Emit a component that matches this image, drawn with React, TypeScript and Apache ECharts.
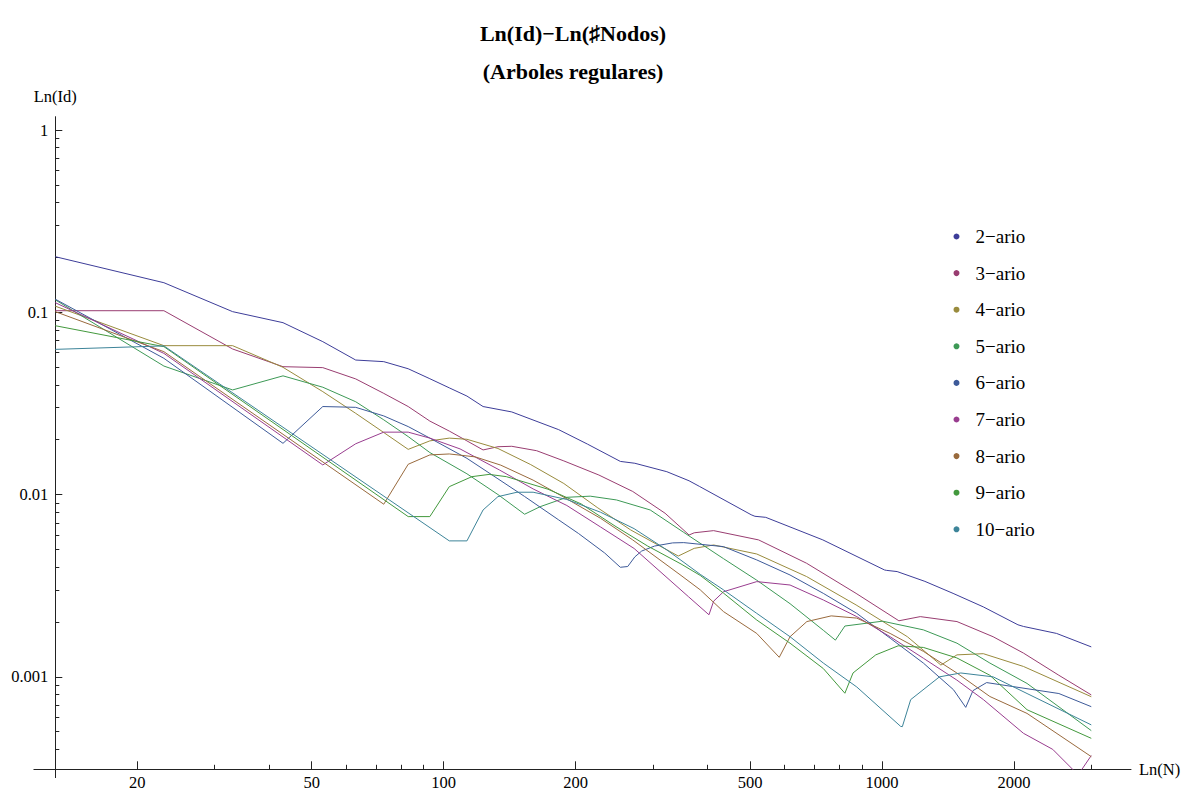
import { useEffect, useRef } from "react";
import * as echarts from "echarts";

const FONT = "'Liberation Serif', 'Times New Roman', Times, serif";
const AXIS_COLOR = "#222";

// ---- series (number of nodes N, value of Id) ----
const nodes2 = [13, 23, 33, 43, 53, 63, 73, 83, 93, 103, 113, 123, 143, 183, 213, 253, 273, 323, 363, 383, 503, 513, 543, 733, 1013, 1023, 1083, 1253, 1453, 1703, 2043, 2103, 2503, 3003];
const id2 = [0.2018, 0.1453, 0.1008, 0.0877, 0.069, 0.0547, 0.0536, 0.049, 0.0432, 0.0385, 0.0347, 0.0304, 0.0284, 0.0227, 0.0189, 0.0152, 0.01485, 0.01335, 0.0119, 0.0111, 0.00775, 0.0076, 0.0075, 0.00564, 0.00386, 0.00384, 0.00378, 0.00334, 0.00287, 0.00242, 0.00193, 0.00189, 0.00173, 0.00146];

const nodes3 = [13, 23, 33, 43, 53, 63, 73, 83, 93, 103, 113, 123, 133, 143, 163, 188, 226, 270, 320, 363, 373, 413, 523, 673, 873, 1093, 1223, 1483, 1793, 2103, 2533, 3003];
const id3 = [0.102, 0.102, 0.0629, 0.0503, 0.0497, 0.0431, 0.0359, 0.0304, 0.0253, 0.0223, 0.0197, 0.01757, 0.0183, 0.0184, 0.0174, 0.0153, 0.0128, 0.0104, 0.0079, 0.006, 0.00617, 0.00634, 0.00564, 0.0042, 0.00287, 0.00203, 0.00214, 0.00201, 0.00166, 0.00135, 0.00102, 0.000796];

const nodes4 = [13, 23, 33, 43, 53, 63, 73, 83, 93, 103, 113, 133, 158, 188, 224, 267, 317, 343, 373, 413, 518, 673, 873, 1143, 1363, 1483, 1703, 2103, 3003];
const id4 = [0.108, 0.0656, 0.0656, 0.0499, 0.0367, 0.0279, 0.0219, 0.0177, 0.0197, 0.0204, 0.0201, 0.0179, 0.0146, 0.0115, 0.0085, 0.0064, 0.0051, 0.0046, 0.00507, 0.00529, 0.00472, 0.00355, 0.00248, 0.00166, 0.00116, 0.00132, 0.00134, 0.00114, 0.000778];

const nodes5 = [13, 23, 33, 43, 53, 63, 73, 83, 93, 113, 133, 153, 166, 191, 216, 248, 296, 353, 435, 518, 617, 735, 783, 823, 1003, 1243, 1483, 1763, 2143, 3003];
const id5 = [0.117, 0.0507, 0.0375, 0.0448, 0.0388, 0.0323, 0.0257, 0.0208, 0.017, 0.013, 0.01, 0.0078, 0.00858, 0.00966, 0.0098, 0.00934, 0.00823, 0.0062, 0.00445, 0.00339, 0.00252, 0.0018, 0.00159, 0.0019, 0.00202, 0.00181, 0.00153, 0.00119, 0.00092, 0.000507];

const nodes6 = [13, 23, 43, 53, 63, 73, 83, 93, 113, 133, 153, 183, 203, 233, 253, 263, 273, 283, 303, 333, 353, 435, 518, 617, 735, 876, 1044, 1243, 1456, 1553, 1613, 1733, 2533, 3003];
const id6 = [0.118, 0.0559, 0.0191, 0.0304, 0.0301, 0.027, 0.0236, 0.0204, 0.0158, 0.0122, 0.00976, 0.00726, 0.00612, 0.00478, 0.00399, 0.00403, 0.00455, 0.0049, 0.00522, 0.00543, 0.00545, 0.00518, 0.00438, 0.00362, 0.00287, 0.00223, 0.00163, 0.00119, 0.00085, 0.00068, 0.00084, 0.00093, 0.00081, 0.000686];

const nodes7 = [13, 23, 53, 63, 73, 83, 93, 109, 134, 160, 191, 228, 272, 362, 403, 413, 435, 518, 617, 735, 876, 1044, 1243, 1482, 1704, 2103, 2453, 2803, 3003];
const id7 = [0.1129, 0.0595, 0.01454, 0.019, 0.022, 0.022, 0.0204, 0.0178, 0.01365, 0.01074, 0.00871, 0.00664, 0.00506, 0.00275, 0.00219, 0.0026, 0.00293, 0.00333, 0.00319, 0.00264, 0.00214, 0.00166, 0.001265, 0.00096, 0.00075, 0.00049, 0.0004, 0.00029, 0.00037];

const nodes8 = [13, 23, 73, 83, 93, 103, 118, 135, 160, 190, 228, 270, 348, 385, 435, 518, 583, 617, 674, 766, 876, 1044, 1243, 1482, 1763, 2143, 3003];
const id8 = [0.1008, 0.0608, 0.00885, 0.01466, 0.0165, 0.0167, 0.0161, 0.0145, 0.012, 0.00954, 0.00741, 0.00564, 0.0036, 0.003, 0.00228, 0.00173, 0.00128, 0.00166, 0.00201, 0.00216, 0.0021, 0.00173, 0.00138, 0.00105, 0.00078, 0.00063, 0.000365];

const nodes9 = [13, 23, 83, 93, 103, 116, 127, 139, 173, 206, 246, 292, 348, 385, 435, 518, 617, 735, 823, 859, 968, 1089, 1243, 1482, 1763, 2143, 3003];
const id9 = [0.0844, 0.0648, 0.00757, 0.00757, 0.01105, 0.01254, 0.0129, 0.01254, 0.0107, 0.00888, 0.00672, 0.00522, 0.00416, 0.0036, 0.00288, 0.00205, 0.00153, 0.00111, 0.000813, 0.00105, 0.00132, 0.00148, 0.00145, 0.00127, 0.00102, 0.00066, 0.00046];

const nodes10 = [13, 23, 103, 113, 123, 133, 147, 160, 191, 228, 272, 323, 385, 435, 518, 617, 735, 876, 1103, 1113, 1163, 1353, 1513, 1793, 2143, 3003];
const id10 = [0.0626, 0.0654, 0.00557, 0.00557, 0.00823, 0.00974, 0.0103, 0.0103, 0.0094, 0.008, 0.0065, 0.00497, 0.00365, 0.003, 0.00223, 0.00166, 0.00119, 0.00088, 0.000535, 0.000533, 0.00075, 0.001, 0.00105, 0.001, 0.00081, 0.000545];

const seriesNames = ["2−ario", "3−ario", "4−ario", "5−ario", "6−ario", "7−ario", "8−ario", "9−ario", "10−ario"];
const seriesColors = ["#3D3D99", "#993D71", "#998B3D", "#3D9956", "#3D5A99", "#993D8F", "#996A3D", "#43993D", "#3D8499"];
const seriesNodes = [nodes2, nodes3, nodes4, nodes5, nodes6, nodes7, nodes8, nodes9, nodes10];
const seriesIds = [id2, id3, id4, id5, id6, id7, id8, id9, id10];

// ---- axes ----
const xMajorTicks = [20, 50, 100, 200, 500, 1000, 2000];
const xMajorLabels = ["20", "50", "100", "200", "500", "1000", "2000"];
const xMinorTicks = [30, 40, 60, 70, 80, 90, 300, 400, 600, 700, 800, 900, 3000];
const yMajorTicks = [1, 0.1, 0.01, 0.001];
const yMajorLabels = ["1", "0.1", "0.01", "0.001"];
const yMinorTicks = [0.9, 0.8, 0.7, 0.6, 0.5, 0.4, 0.3, 0.2, 0.09, 0.08, 0.07, 0.06, 0.05, 0.04, 0.03, 0.02, 0.009, 0.008, 0.007, 0.006, 0.005, 0.004, 0.003, 0.002, 0.0009, 0.0008, 0.0007, 0.0006, 0.0005, 0.0004];

const X_MIN = 13;
const X_MAX = 3700;
const Y_MIN = 0.000311;
const Y_MAX = 1.183;

const titleText = "Ln(Id)−Ln(♯Nodos)";
const subtitleText = "(Arboles regulares)";
const xName = "Ln(N)";
const yName = "Ln(Id)";

function labelFormatter(ticks: number[], labels: string[]) {
  return (v: number) => {
    const i = ticks.findIndex((t) => Math.abs(Math.log10(v / t)) < 1e-6);
    return i >= 0 ? labels[i] : "";
  };
}

const GRID = { left: 55.3, right: 51, top: 116.7, bottom: 28.7 };
const TICK_FONT = 16.5;

function buildOption(): echarts.EChartsOption {
  const series = seriesNames.map((name, s) => ({
    type: "line" as const,
    name,
    xAxisIndex: 0,
    yAxisIndex: 0,
    data: seriesNodes[s].map((n, i) => [n, seriesIds[s][i]]),
    showSymbol: false,
    symbol: "none",
    clip: true,
    silent: true,
    lineStyle: { width: 1, color: seriesColors[s] },
    itemStyle: { color: seriesColors[s] },
    emphasis: { disabled: true },
  }));

  return {
    animation: false,
    backgroundColor: "#ffffff",
    title: [
      {
        text: titleText,
        left: 573,
        top: 22,
        textAlign: "center",
        padding: 0,
        textStyle: { fontFamily: FONT, fontWeight: "bold", fontSize: 22, color: "#000" },
      },
      {
        text: subtitleText,
        left: 573,
        top: 60,
        textAlign: "center",
        padding: 0,
        textStyle: { fontFamily: FONT, fontWeight: "bold", fontSize: 22, color: "#000" },
      },
    ],
    legend: {
      data: seriesNames,
      orient: "vertical",
      left: 953.5,
      top: 227,
      padding: 0,
      itemGap: 17.6,
      itemWidth: 28,
      itemHeight: 6,
      icon: "circle",
      selectedMode: false,
      textStyle: { fontFamily: FONT, fontSize: 19, color: "#000" },
    },
    grid: { ...GRID, containLabel: false, outerBoundsMode: "none" } as any,
    xAxis: [
      {
        type: "log",
        min: X_MIN,
        max: X_MAX,
        position: "bottom",
        name: xName,
        nameLocation: "end",
        nameGap: 8,
        nameTextStyle: { fontFamily: FONT, fontSize: TICK_FONT, color: "#000" },
        axisLine: { show: true, onZero: false, lineStyle: { color: AXIS_COLOR, width: 1 } },
        axisTick: { show: true, inside: true, length: 8, customValues: xMajorTicks, lineStyle: { color: AXIS_COLOR, width: 1 } },
        axisLabel: {
          show: true,
          customValues: xMajorTicks,
          margin: 5,
          fontFamily: FONT,
          fontSize: TICK_FONT,
          color: "#000",
          formatter: labelFormatter(xMajorTicks, xMajorLabels),
        },
        splitLine: { show: false },
        minorTick: { show: false },
      },
      {
        type: "log",
        min: X_MIN,
        max: X_MAX,
        position: "bottom",
        axisLine: { show: false, onZero: false },
        axisTick: { show: true, inside: true, length: 4.5, customValues: xMinorTicks, lineStyle: { color: AXIS_COLOR, width: 1 } },
        axisLabel: { show: false },
        splitLine: { show: false },
      },
    ] as any,
    yAxis: [
      {
        type: "log",
        min: Y_MIN,
        max: Y_MAX,
        position: "left",
        name: yName,
        nameLocation: "end",
        nameGap: 12,
        nameTextStyle: { fontFamily: FONT, fontSize: TICK_FONT, color: "#000" },
        axisLine: { show: true, onZero: false, lineStyle: { color: AXIS_COLOR, width: 1 } },
        axisTick: { show: true, inside: true, length: 7, customValues: yMajorTicks, lineStyle: { color: AXIS_COLOR, width: 1 } },
        axisLabel: {
          show: true,
          customValues: yMajorTicks,
          margin: 7,
          fontFamily: FONT,
          fontSize: TICK_FONT,
          color: "#000",
          formatter: labelFormatter(yMajorTicks, yMajorLabels),
        },
        splitLine: { show: false },
      },
      {
        type: "log",
        min: Y_MIN,
        max: Y_MAX,
        position: "left",
        axisLine: { show: false, onZero: false },
        axisTick: { show: true, inside: true, length: 4, customValues: yMinorTicks, lineStyle: { color: AXIS_COLOR, width: 1 } },
        axisLabel: { show: false },
        splitLine: { show: false },
      },
    ] as any,
    graphic: [
      {
        type: "line",
        silent: true,
        shape: { x1: 33.5, y1: 769.5, x2: 55.5, y2: 769.5 },
        style: { stroke: AXIS_COLOR, lineWidth: 1 },
      },
      {
        type: "line",
        silent: true,
        shape: { x1: 55.5, y1: 769.5, x2: 55.5, y2: 778 },
        style: { stroke: AXIS_COLOR, lineWidth: 1 },
      },
    ],
    series,
  } as any;
}

export default function App() {
  const ref = useRef<HTMLDivElement>(null);
  useEffect(() => {
    if (!ref.current) return;
    const chart = echarts.init(ref.current, null, { renderer: "svg" });
    chart.setOption(buildOption());
    return () => chart.dispose();
  }, []);
  return (
    <div
      ref={ref}
      style={{ position: "fixed", left: 0, top: 0, width: 1182, height: 798, background: "#fff" }}
    />
  );
}
